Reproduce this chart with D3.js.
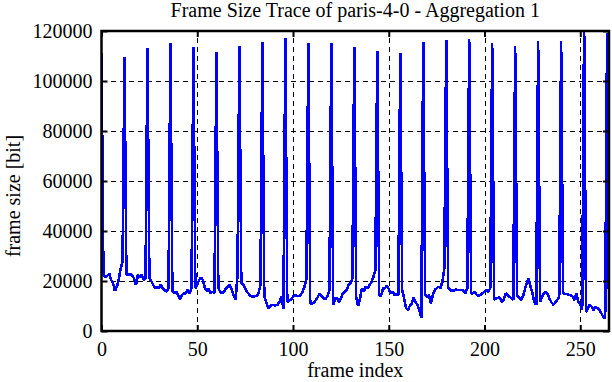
<!DOCTYPE html>
<html>
<head>
<meta charset="utf-8">
<script src="https://cdn.jsdelivr.net/npm/d3@7/dist/d3.min.js"></script>
<style>
  html, body { margin: 0; padding: 0; background: #fff; }
  svg { display: block; }
  text { font-family: "Liberation Serif", "Times New Roman", serif; fill: #000; }
</style>
</head>
<body>
<svg id="chart" width="612" height="382"></svg>
<script>
// ---- data ----
const title = "Frame Size Trace of paris-4-0 - Aggregation 1";
const xLabel = "frame index";
const yLabel = "frame size [bit]";
const xTicks = [0, 50, 100, 150, 200, 250];
const yTicks = [0, 20000, 40000, 60000, 80000, 100000, 120000];
const frameSizes = [
  111000, 22400, 21500, 22000, 23000, 20400, 19300, 16000, 17700, 20400,
  25000, 27700, 109600, 22400, 22700, 22700, 22400, 21000, 18400, 22400,
  21600, 22400, 20400, 21000, 113200, 21000, 20000, 18400, 17100, 17700,
  17100, 18700, 17100, 16400, 15700, 17100, 115000, 16000, 15100, 15700,
  14400, 12800, 14400, 15100, 15100, 16400, 15100, 17100, 113700, 17100,
  18700, 20400, 21400, 20400, 17100, 16000, 16800, 15100, 15700, 15100,
  111600, 17100, 15700, 15100, 15700, 17100, 17700, 18400, 16400, 14400,
  12400, 22400, 114000, 19100, 18700, 17100, 15700, 14700, 14000, 13700,
  13900, 14000, 15100, 18400, 115600, 13700, 11600, 9100, 9700, 10500,
  10300, 10300, 10500, 11800, 13700, 9000, 117200, 11500, 12400, 12400,
  13700, 14400, 14000, 14000, 14400, 15700, 17700, 21000, 115200, 11000,
  11000, 11400, 12400, 13700, 15100, 13700, 13100, 12800, 14000, 16400,
  115200, 10500, 13100, 13300, 11600, 13100, 15100, 15700, 16400, 18400,
  19100, 21000, 113600, 13500, 10000, 13000, 17100, 15700, 17700, 17100,
  18400, 19700, 21700, 24400, 112000, 14400, 14100, 17100, 17100, 18100,
  16800, 15100, 15700, 14400, 14700, 14400, 111200, 16400, 13100, 9300,
  8400, 10100, 11000, 13300, 11600, 10300, 8400, 5100, 115600, 14400,
  13700, 14400, 11000, 14400, 16400, 17100, 17700, 17100, 19700, 25100,
  116400, 17500, 16400, 16100, 16100, 16700, 16400, 16400, 16400, 16100,
  15100, 17100, 116800, 15100, 15100, 15700, 14400, 14100, 14400, 15100,
  15700, 16400, 15700, 17100, 115200, 12400, 13100, 13300, 13300, 11600,
  12400, 15100, 14400, 13700, 13100, 12400, 114000, 13700, 13700, 12400,
  13700, 16400, 19100, 21000, 17700, 15100, 11600, 10500, 116000, 11600,
  13700, 15100, 15700, 14700, 12800, 11400, 10500, 11400, 12400, 13700,
  116000, 15100, 14800, 14800, 14400, 14400, 13700, 12400, 15100, 11600,
  10500, 8400, 124000, 7500, 9100, 10500, 9700, 8400, 9700, 9100,
  8400, 7100, 5700, 5100, 119000, 6000
];
const frames = frameSizes.map((v, i) => i);

// ---- layout ----
const svg = d3.select("#chart");
const L = 101.5, R = 609, T = 31, B = 331;
const x = d3.scaleLinear().domain([0, 265]).range([L, R]);
const y = d3.scaleLinear().domain([0, 120000]).range([B, T]);
const fmt = d3.format("d");

// grid (dashed)
const gridX = svg.append("g").attr("transform", `translate(0,${B})`)
  .call(d3.axisBottom(x).tickValues(xTicks.filter(d => d > 0)).tickSize(-(B - T)).tickFormat(""));
const gridY = svg.append("g").attr("transform", `translate(${L},0)`)
  .call(d3.axisLeft(y).tickValues(yTicks.filter(d => d > 0 && d < 120000)).tickSize(-(R - L)).tickFormat(""));
[gridX, gridY].forEach(g => {
  g.select(".domain").remove();
  g.selectAll("line").attr("stroke", "#000").attr("stroke-width", 1)
    .attr("stroke-dasharray", "5,4").attr("shape-rendering", "crispEdges");
});

// clip
svg.append("clipPath").attr("id", "clip").append("rect")
  .attr("x", L).attr("y", T).attr("width", R - L).attr("height", B - T);

// data line
const line = d3.line().x((d, i) => x(frames[i])).y(d => y(d));
svg.append("path").datum(frameSizes)
  .attr("clip-path", "url(#clip)")
  .attr("d", line)
  .attr("fill", "none")
  .attr("stroke", "#0000ff")
  .attr("stroke-width", 2.6)
  .attr("stroke-linejoin", "bevel")
  .attr("shape-rendering", "crispEdges");

// axes with inward ticks
const fontSize = 20;
const axB = svg.append("g").attr("transform", `translate(0,${B})`)
  .call(d3.axisBottom(x).tickValues(xTicks).tickSizeInner(-6).tickSizeOuter(0).tickPadding(11).tickFormat(fmt));
const axT = svg.append("g").attr("transform", `translate(0,${T})`)
  .call(d3.axisTop(x).tickValues(xTicks).tickSizeInner(-6).tickSizeOuter(0).tickFormat(""));
const axL = svg.append("g").attr("transform", `translate(${L},0)`)
  .call(d3.axisLeft(y).tickValues(yTicks).tickSizeInner(-6).tickSizeOuter(0).tickPadding(9).tickFormat(fmt));
const axR = svg.append("g").attr("transform", `translate(${R},0)`)
  .call(d3.axisRight(y).tickValues(yTicks).tickSizeInner(-6).tickSizeOuter(0).tickFormat(""));
[axB, axT, axL, axR].forEach(g => {
  g.select(".domain").remove();
  g.selectAll("line").attr("stroke", "#000").attr("stroke-width", 2);
  g.selectAll("text").attr("font-size", fontSize)
    .attr("font-family", "'Liberation Serif', serif").attr("fill", "#000");
});

// border
svg.append("rect").attr("x", L).attr("y", T).attr("width", R - L).attr("height", B - T)
  .attr("fill", "none").attr("stroke", "#000").attr("stroke-width", 2.5);

// titles
svg.append("text").attr("x", (L + R) / 2).attr("y", 17).attr("text-anchor", "middle")
  .attr("font-size", fontSize).text(title);
svg.append("text").attr("x", (L + R) / 2).attr("y", 377).attr("text-anchor", "middle")
  .attr("font-size", fontSize).text(xLabel);
svg.append("text").attr("transform", `translate(20,196) rotate(-90)`)
  .attr("text-anchor", "middle").attr("font-size", fontSize).text(yLabel);
</script>
</body>
</html>
